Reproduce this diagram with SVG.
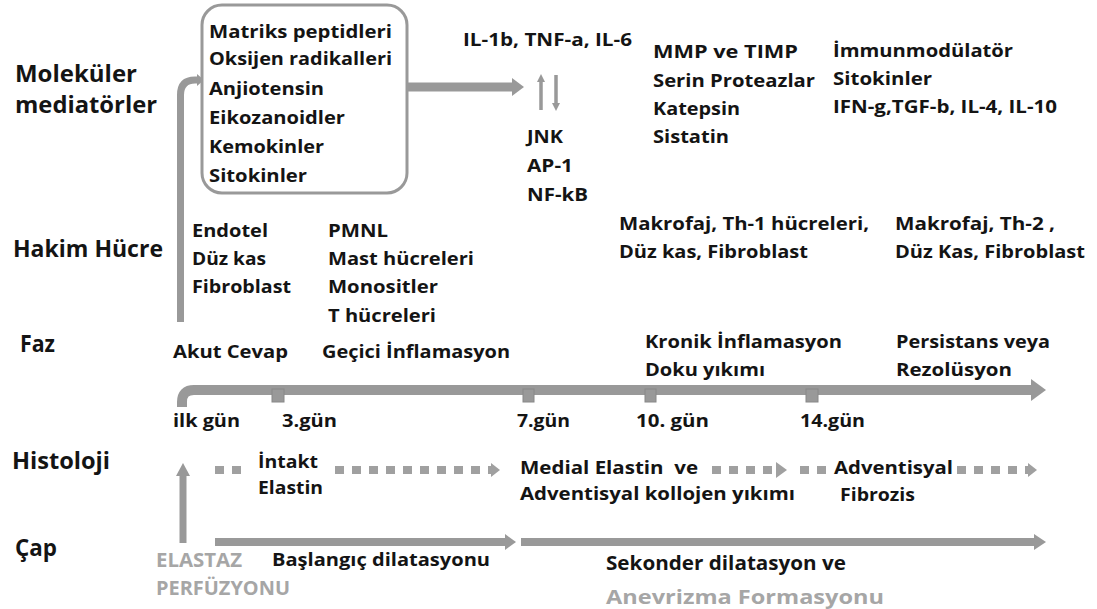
<svg xmlns="http://www.w3.org/2000/svg" width="1097" height="609" viewBox="0 0 1097 609">
<style>
text{font-family:"Open Sans","Noto Sans","Liberation Sans",sans-serif;font-weight:700;font-size:18.5px;fill:#141414}
.lbl{font-size:23.5px}
.big{font-size:19.5px}
.el{font-size:19px}
.gray{fill:#a6a6a6}
.ln{fill:none;stroke:#999;stroke-linecap:butt}
.dash{fill:none;stroke:#a0a0a0;stroke-width:8;stroke-dasharray:9 8}
.head{fill:#999}
.dhead{fill:#a0a0a0}
.tick{fill:#999;stroke:#888;stroke-width:1}
</style>
<rect width="1097" height="609" fill="#fff"/>

<g id="connectors">
  <path class="ln" d="M180.5,322 V95 Q180.5,80 195,80 H198" stroke-width="7"/>
  <polygon class="head" points="197,74 204,80 197,86"/>
  <path class="ln" d="M407,87 H513" stroke-width="9"/>
  <polygon class="head" points="512,78 524,87 512,96"/>
  <path class="ln" d="M541,110 V81" stroke-width="3.5"/>
  <polygon class="head" points="537,82 541,74 545,82"/>
  <path class="ln" d="M556,75 V104" stroke-width="3.5"/>
  <polygon class="head" points="552,103 556,111 560,103"/>
  <path d="M182,407 V402 Q182,390 194,390 H1032" fill="none" stroke="#999" stroke-width="10"/>
  <polygon class="head" points="1031,379 1046,390 1031,401"/>
  <rect class="tick" x="272" y="389" width="12" height="13"/>
  <rect class="tick" x="523" y="389" width="11" height="13"/>
  <rect class="tick" x="645" y="389" width="11" height="13"/>
  <rect class="tick" x="806" y="389" width="12" height="13"/>
  <path class="ln" d="M183,543 V474" stroke-width="7"/>
  <polygon class="head" points="176,476 183,463 190,476"/>
  <path class="dash" d="M215,470 H246"/>
  <path class="dash" d="M335,470 H491"/>
  <polygon class="dhead" points="491,463 500,470 491,477"/>
  <path class="dash" d="M712,470 H777"/>
  <polygon class="dhead" points="776,462 787,470 776,478"/>
  <path class="dash" d="M800,470 H832"/>
  <path class="dash" d="M957,470 H1028"/>
  <polygon class="dhead" points="1028,463 1037,470 1028,477"/>
  <path class="ln" d="M215,542 H506" stroke-width="8"/>
  <polygon class="head" points="505,534 516,542 505,550"/>
  <path class="ln" d="M521,542 H1035" stroke-width="8"/>
  <polygon class="head" points="1034,534 1046,542 1034,550"/>
</g>

<g id="row-labels">
  <text class="lbl" x="15" y="82" textLength="122" lengthAdjust="spacingAndGlyphs">Moleküler</text>
  <text class="lbl" x="15" y="113" textLength="142" lengthAdjust="spacingAndGlyphs">mediatörler</text>
  <text class="lbl" x="13" y="257" textLength="150" lengthAdjust="spacingAndGlyphs">Hakim Hücre</text>
  <text class="lbl" x="20" y="352" textLength="35" lengthAdjust="spacingAndGlyphs">Faz</text>
  <text class="lbl" x="12" y="469" textLength="98" lengthAdjust="spacingAndGlyphs">Histoloji</text>
  <text class="lbl" x="15" y="556" textLength="42" lengthAdjust="spacingAndGlyphs">Çap</text>
</g>

<g id="mediator-box">
  <rect x="202" y="5" width="205" height="188" rx="20" fill="#fff" stroke="#999" stroke-width="3"/>
  <text x="209" y="38" textLength="183" lengthAdjust="spacingAndGlyphs">Matriks peptidleri</text>
  <text x="209" y="65" textLength="183" lengthAdjust="spacingAndGlyphs">Oksijen radikalleri</text>
  <text x="209" y="95" textLength="115" lengthAdjust="spacingAndGlyphs">Anjiotensin</text>
  <text x="209" y="124" textLength="136" lengthAdjust="spacingAndGlyphs">Eikozanoidler</text>
  <text x="209" y="153" textLength="115" lengthAdjust="spacingAndGlyphs">Kemokinler</text>
  <text x="209" y="182" textLength="98" lengthAdjust="spacingAndGlyphs">Sitokinler</text>
</g>

<g id="cytokines">
  <text x="463" y="46" textLength="169" lengthAdjust="spacingAndGlyphs">IL-1b, TNF-a, IL-6</text>
</g>
<g id="signalling">
  <text x="527" y="143" textLength="36" lengthAdjust="spacingAndGlyphs">JNK</text>
  <text x="527" y="172" textLength="46" lengthAdjust="spacingAndGlyphs">AP-1</text>
  <text x="527" y="201" textLength="61" lengthAdjust="spacingAndGlyphs">NF-kB</text>
</g>
<g id="proteases">
  <text x="653" y="58" textLength="145" lengthAdjust="spacingAndGlyphs">MMP ve TIMP</text>
  <text x="653" y="87" textLength="162" lengthAdjust="spacingAndGlyphs">Serin Proteazlar</text>
  <text x="653" y="115" textLength="87" lengthAdjust="spacingAndGlyphs">Katepsin</text>
  <text x="653" y="143" textLength="76" lengthAdjust="spacingAndGlyphs">Sistatin</text>
</g>
<g id="immunomodulators">
  <text x="833" y="57" textLength="180" lengthAdjust="spacingAndGlyphs">İmmunmodülatör</text>
  <text x="833" y="85" textLength="99" lengthAdjust="spacingAndGlyphs">Sitokinler</text>
  <text x="833" y="113" textLength="224" lengthAdjust="spacingAndGlyphs">IFN-g,TGF-b, IL-4, IL-10</text>
</g>

<g id="cells-1">
  <text x="192" y="237" textLength="76" lengthAdjust="spacingAndGlyphs">Endotel</text>
  <text x="192" y="265" textLength="74" lengthAdjust="spacingAndGlyphs">Düz kas</text>
  <text x="192" y="293" textLength="99" lengthAdjust="spacingAndGlyphs">Fibroblast</text>
</g>
<g id="cells-2">
  <text x="328" y="237" textLength="60" lengthAdjust="spacingAndGlyphs">PMNL</text>
  <text x="328" y="265" textLength="146" lengthAdjust="spacingAndGlyphs">Mast hücreleri</text>
  <text x="328" y="293" textLength="110" lengthAdjust="spacingAndGlyphs">Monositler</text>
  <text x="328" y="322" textLength="108" lengthAdjust="spacingAndGlyphs">T hücreleri</text>
</g>
<g id="cells-3">
  <text x="619" y="230" textLength="250" lengthAdjust="spacingAndGlyphs">Makrofaj, Th-1 hücreleri,</text>
  <text x="619" y="258" textLength="189" lengthAdjust="spacingAndGlyphs">Düz kas, Fibroblast</text>
</g>
<g id="cells-4">
  <text x="895" y="230" textLength="160" lengthAdjust="spacingAndGlyphs">Makrofaj, Th-2 ,</text>
  <text x="895" y="258" textLength="190" lengthAdjust="spacingAndGlyphs">Düz Kas, Fibroblast</text>
</g>

<g id="phases">
  <text x="173" y="358" textLength="115" lengthAdjust="spacingAndGlyphs">Akut Cevap</text>
  <text x="322" y="358" textLength="188" lengthAdjust="spacingAndGlyphs">Geçici İnflamasyon</text>
  <text x="645" y="348" textLength="197" lengthAdjust="spacingAndGlyphs">Kronik İnflamasyon</text>
  <text x="645" y="376" textLength="120" lengthAdjust="spacingAndGlyphs">Doku yıkımı</text>
  <text x="896" y="348" textLength="154" lengthAdjust="spacingAndGlyphs">Persistans veya</text>
  <text x="896" y="376" textLength="116" lengthAdjust="spacingAndGlyphs">Rezolüsyon</text>
</g>

<g id="days">
  <text x="173" y="427" textLength="67" lengthAdjust="spacingAndGlyphs">ilk gün</text>
  <text x="282" y="427" textLength="55" lengthAdjust="spacingAndGlyphs">3.gün</text>
  <text x="517" y="427" textLength="53" lengthAdjust="spacingAndGlyphs">7.gün</text>
  <text x="636" y="427" textLength="73" lengthAdjust="spacingAndGlyphs">10. gün</text>
  <text x="800" y="427" textLength="65" lengthAdjust="spacingAndGlyphs">14.gün</text>
</g>

<g id="histology">
  <text x="258" y="468" textLength="60" lengthAdjust="spacingAndGlyphs">İntakt</text>
  <text x="258" y="494" textLength="65" lengthAdjust="spacingAndGlyphs">Elastin</text>
  <text x="520" y="474" textLength="178" lengthAdjust="spacingAndGlyphs" xml:space="preserve">Medial Elastin  ve</text>
  <text x="520" y="500" textLength="275" lengthAdjust="spacingAndGlyphs">Adventisyal kollojen yıkımı</text>
  <text x="834" y="474" textLength="119" lengthAdjust="spacingAndGlyphs">Adventisyal</text>
  <text x="840" y="501" textLength="75" lengthAdjust="spacingAndGlyphs">Fibrozis</text>
</g>

<g id="diameter">
  <text class="el gray" x="156" y="567" textLength="86" lengthAdjust="spacingAndGlyphs">ELASTAZ</text>
  <text class="el gray" x="156" y="595" textLength="134" lengthAdjust="spacingAndGlyphs">PERFÜZYONU</text>
  <text x="272" y="566" textLength="218" lengthAdjust="spacingAndGlyphs">Başlangıç dilatasyonu</text>
  <text class="big" x="606" y="570" textLength="240" lengthAdjust="spacingAndGlyphs">Sekonder dilatasyon ve</text>
  <text class="big gray" x="606" y="604" textLength="278" lengthAdjust="spacingAndGlyphs">Anevrizma Formasyonu</text>
</g>
</svg>
